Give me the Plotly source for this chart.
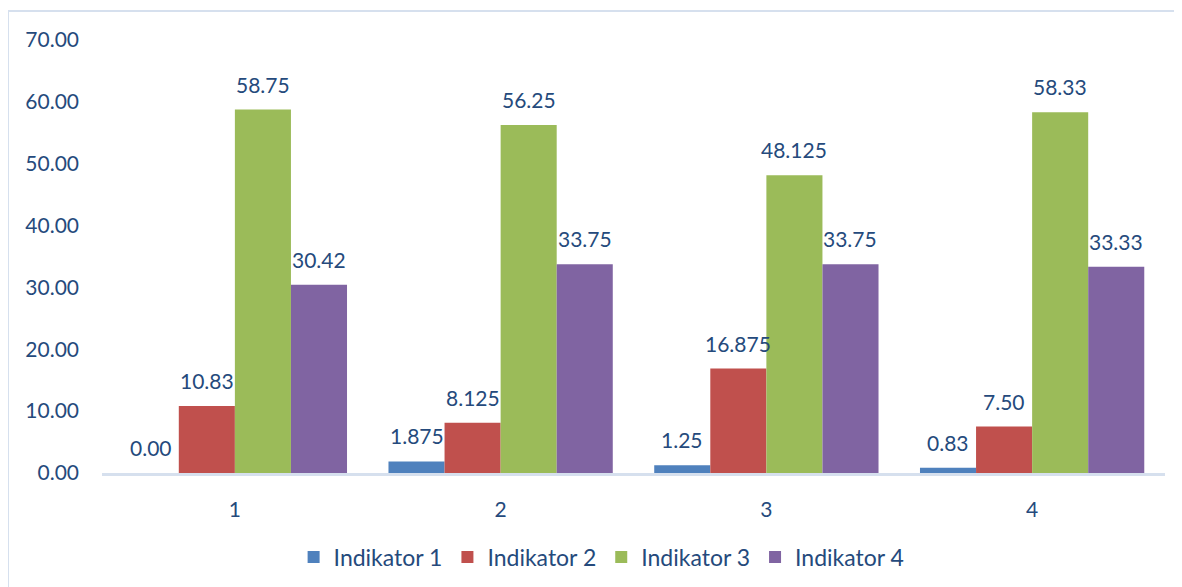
import plotly.graph_objects as go

categories = [1, 2, 3, 4]
category_labels = ["1", "2", "3", "4"]
series_names = ["Indikator 1", "Indikator 2", "Indikator 3", "Indikator 4"]
ind1 = [0.00, 1.875, 1.25, 0.83]
ind2 = [10.83, 8.125, 16.875, 7.50]
ind3 = [58.75, 56.25, 48.125, 58.33]
ind4 = [30.42, 33.75, 33.75, 33.33]
ind1_text = ["0.00", "1.875", "1.25", "0.83"]
ind2_text = ["10.83", "8.125", "16.875", "7.50"]
ind3_text = ["58.75", "56.25", "48.125", "58.33"]
ind4_text = ["30.42", "33.75", "33.75", "33.33"]
y_ticks = [0, 10, 20, 30, 40, 50, 60, 70]

series_values = [ind1, ind2, ind3, ind4]
series_text = [ind1_text, ind2_text, ind3_text, ind4_text]
colors = ["#4F81BD", "#C0504D", "#9BBB59", "#8064A2"]
text_color = "#254A7C"
font_family = "Lato, 'Open Sans', sans-serif"

bargap = 0.156
bar_w = (1 - bargap) / len(series_values)

fig = go.Figure()
annotations = []
for i, (name, vals, txt, col) in enumerate(zip(series_names, series_values, series_text, colors)):
    fig.add_trace(go.Bar(
        x=categories, y=vals, name=name,
        marker=dict(color=col, line=dict(width=0)),
    ))
    off = (i - (len(series_values) - 1) / 2) * bar_w
    for c, v, t in zip(categories, vals, txt):
        annotations.append(dict(
            x=c + off, y=v, xref="x", yref="y", text=t, showarrow=False,
            yanchor="bottom", xanchor="center", yshift=11,
            font=dict(family=font_family, size=21, color=text_color),
        ))

fig.update_layout(
    width=1174, height=579,
    barmode="group", bargap=bargap, bargroupgap=0,
    plot_bgcolor="white", paper_bgcolor="white",
    margin=dict(l=94, r=17, t=32, b=114, autoexpand=False),
    font=dict(family=font_family, size=20, color=text_color),
    showlegend=True,
    legend=dict(orientation="h", x=0.470, xanchor="center", y=-0.194, yanchor="middle",
                font=dict(family=font_family, size=23, color=text_color),
                itemwidth=30, tracegroupgap=0),
    annotations=annotations,
    shapes=[
        dict(type="line", xref="paper", yref="paper", x0=-0.0884, x1=1.1, y0=1.067, y1=1.067,
             line=dict(color="#D6E0EE", width=2)),
        dict(type="line", xref="paper", yref="paper", x0=-0.0884, x1=-0.0884, y0=1.067, y1=-0.3,
             line=dict(color="#D6E0EE", width=2)),
    ],
)
fig.update_xaxes(
    tickvals=categories, ticktext=category_labels, range=[0.5, 4.5],
    showline=True, linecolor="#D6E0EE", linewidth=3, showgrid=False, zeroline=False,
    ticks="", ticklabelstandoff=16,
    tickfont=dict(family=font_family, size=21, color=text_color),
)
fig.update_yaxes(
    range=[0, 70], tickvals=y_ticks, tickformat=".2f",
    showgrid=False, zeroline=False, showline=False, ticks="", ticklabelstandoff=22,
    tickfont=dict(family=font_family, size=21, color=text_color),
)

fig.write_html("out.html")
